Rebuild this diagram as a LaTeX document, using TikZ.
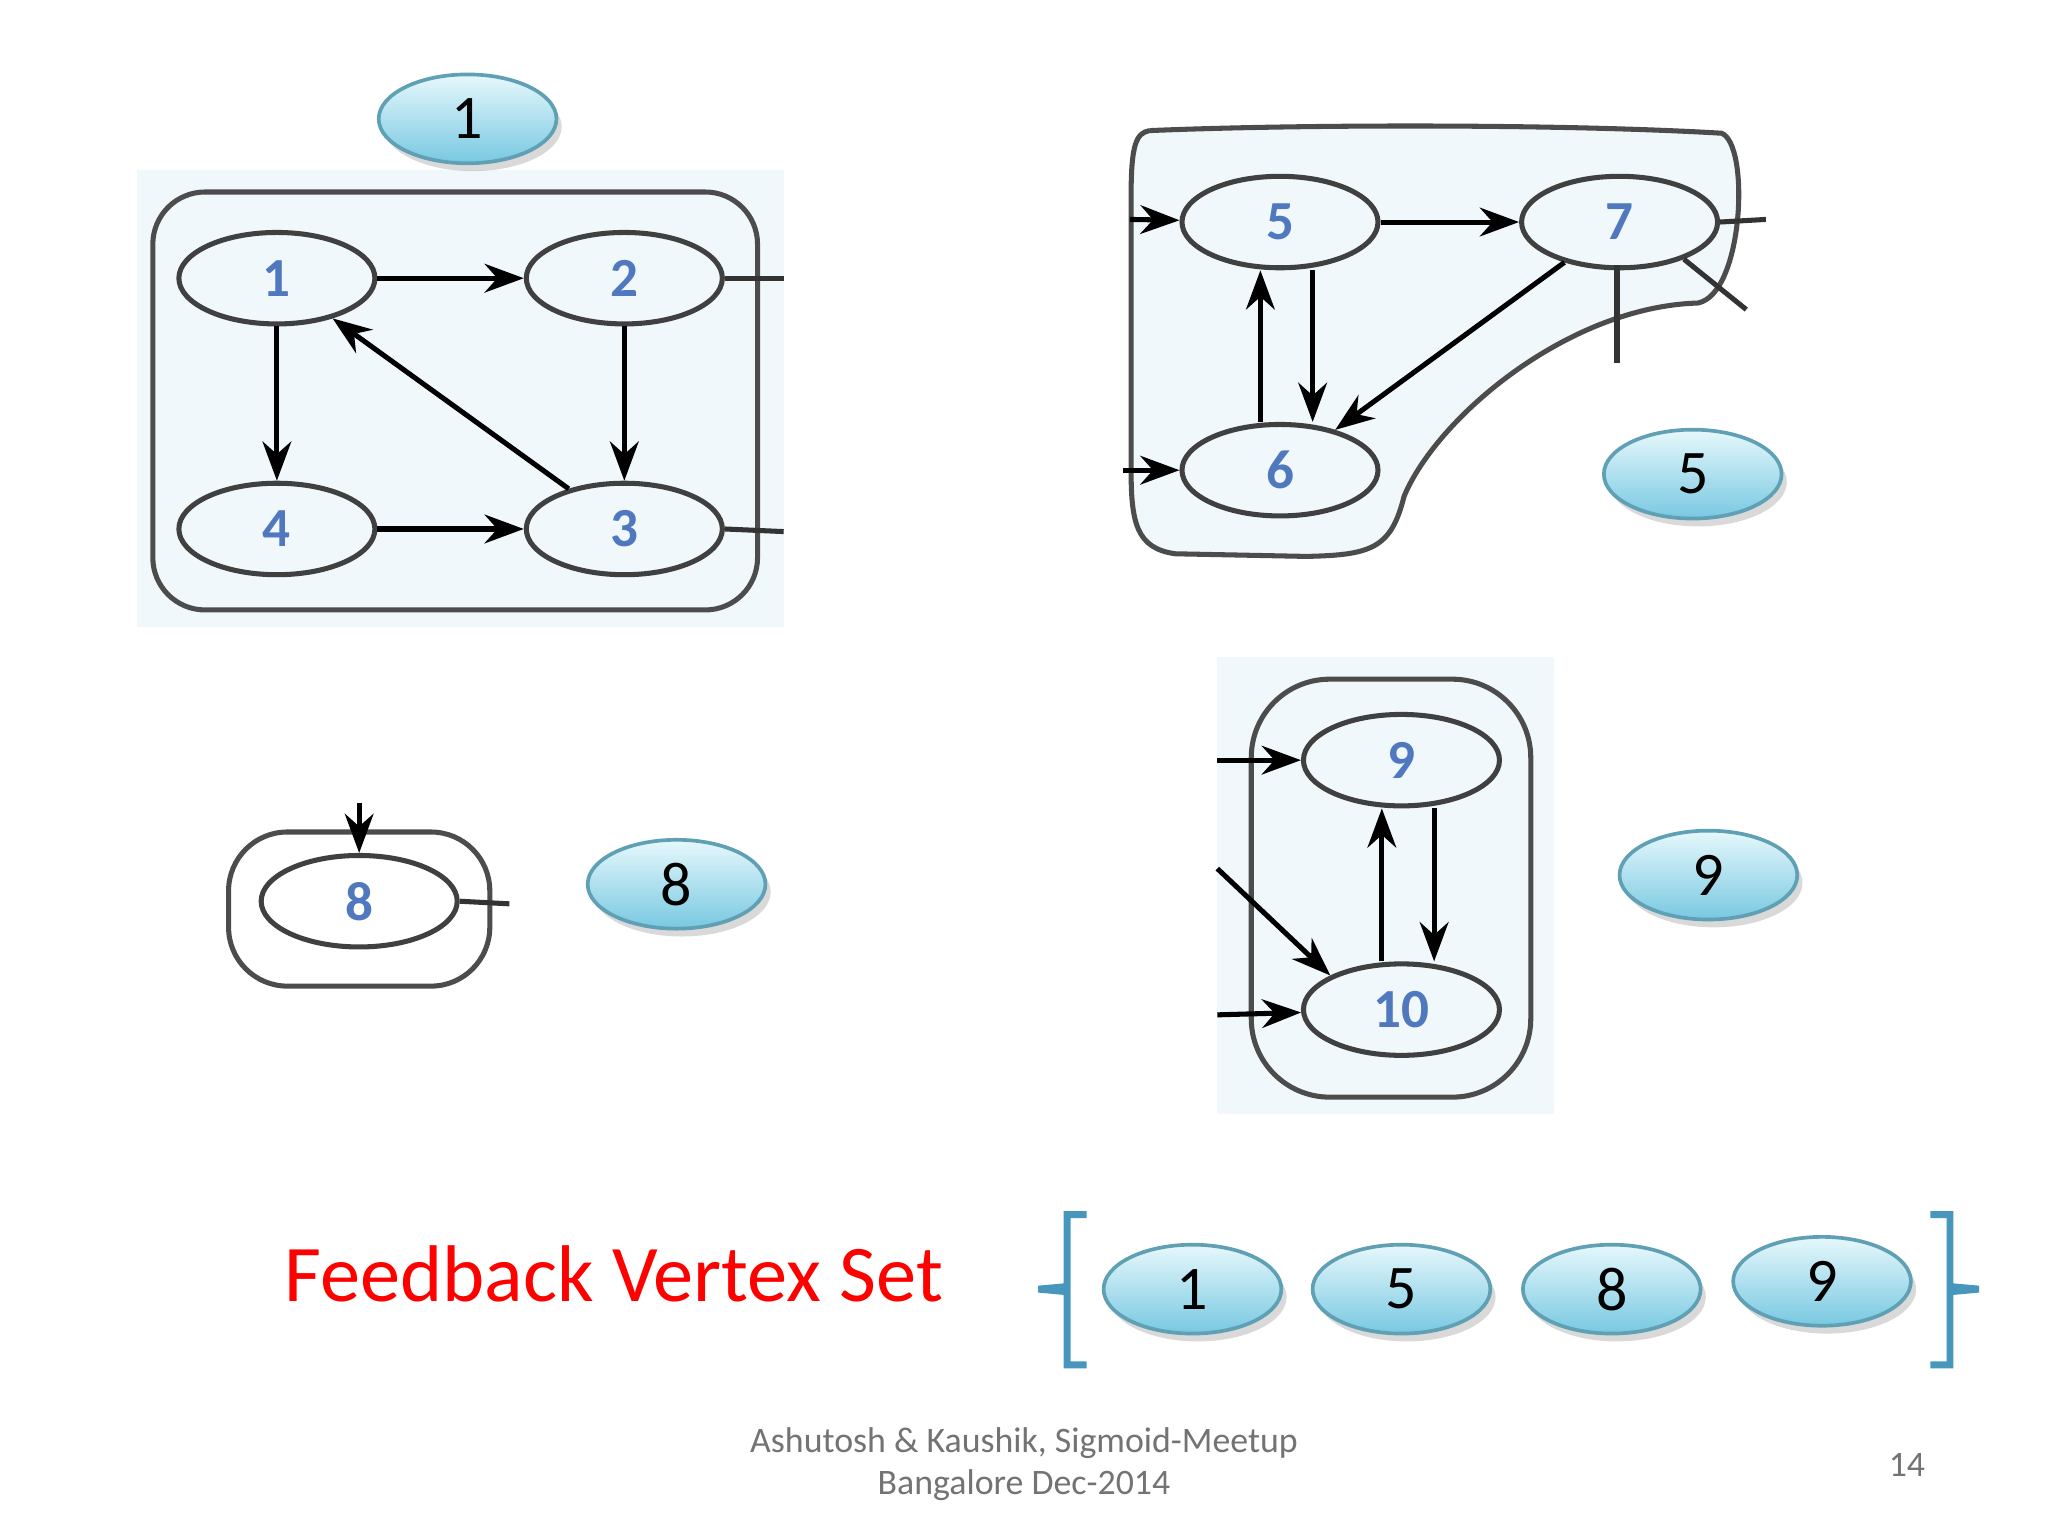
\documentclass[tikz,border=0pt]{standalone}
\usepackage{fontspec}
\setmainfont{Carlito}
\usetikzlibrary{shapes.geometric,arrows.meta,shadows}
\definecolor{gblue}{RGB}{80,120,190}
\definecolor{bgb}{RGB}{240,248,252}
\definecolor{bub}{RGB}{120,200,225}
\definecolor{bubl}{RGB}{230,248,252}
\definecolor{brk}{RGB}{70,150,190}
\tikzset{
 gnode/.style={ellipse,draw=black!75,line width=1.1pt,minimum width=15mm,minimum height=7mm,inner sep=0pt,font=\bfseries\fontsize{12}{14}\selectfont,text=gblue},
 bubble/.style={ellipse,draw=bub!80!black,line width=0.8pt,minimum width=13.6mm,minimum height=6.8mm,inner sep=0pt,top color=bubl,bottom color=bub,font=\fontsize{13.5}{16}\selectfont,drop shadow={opacity=0.3,shadow xshift=0.4mm,shadow yshift=-0.6mm}},
 arr/.style={-{Stealth[length=3mm,width=2.2mm]},line width=1.1pt},
 ln/.style={line width=1.1pt,black!80},
 box/.style={draw=black!70,line width=1.1pt,rounded corners=4mm}
}
\begin{document}
\begin{tikzpicture}[x=0.01cm,y=-0.01cm]
\useasboundingbox (0,0) rectangle (1568,1176);
% graph 1
\fill[bgb] (105,130) rectangle (600,480);
\draw[box] (117,147) rectangle (580,467);
\node[gnode] (n1) at (212,213) {1};
\node[gnode] (n2) at (478,213) {2};
\node[gnode] (n4) at (212,405) {4};
\node[gnode] (n3) at (478,405) {3};
\draw[arr] (n1) -- (n2);
\draw[arr] (n2) -- (n3);
\draw[arr] (n1) -- (n4);
\draw[arr] (n4) -- (n3);
\draw[arr] (n3) -- (n1);
\coordinate (s2) at (600,213); \coordinate (s3) at (600,407);
\draw[ln] (n2.east) -- (s2); \draw[ln] (n3.east) -- (s3);
\node[bubble] (b1) at (358,91) {1};
% graph 2
\fill[bgb] (880,100) .. controls (1000,95) and (1200,95) .. (1318,102) .. controls (1340,110) and (1335,225) .. (1300,232) .. controls (1200,235) and (1100,320) .. (1075,380) .. controls (1065,420) and (1050,425) .. (1000,426) -- (900,424) .. controls (870,420) and (866,400) .. (866,360) -- (866,150) .. controls (866,110) and (870,102) .. (880,100);
\draw[ln,black!70] (880,100) .. controls (1000,95) and (1200,95) .. (1318,102) .. controls (1340,110) and (1335,225) .. (1300,232) .. controls (1200,235) and (1100,320) .. (1075,380) .. controls (1065,420) and (1050,425) .. (1000,426) -- (900,424) .. controls (870,420) and (866,400) .. (866,360) -- (866,150) .. controls (866,110) and (870,102) .. (880,100);
\node[gnode] (n5) at (980,170) {5};
\node[gnode] (n7) at (1240,170) {7};
\node[gnode] (n6) at (980,360) {6};
\draw[arr] (n5) -- (n7);
\draw[arr] ([xshift=0.25cm]n5.south) -- ([xshift=0.25cm]n6.north);
\draw[arr] ([xshift=-0.15cm]n6.north) -- ([xshift=-0.15cm]n5.south);
\draw[arr] (n7) -- (n6);
\coordinate (i5) at (865,168); \coordinate (i6) at (860,360);
\draw[arr] (i5) -- (n5); \draw[arr] (i6) -- (n6);
\coordinate (o7) at (1352,168); \coordinate (d7) at (1238,278); \coordinate (g7) at (1337,237);
\draw[ln] (n7.east) -- (o7);
\draw[ln] (1238,203) -- (d7);
\draw[ln] (n7.-30) -- (g7);
\node[bubble] (b5) at (1296,363) {5};
% graph 3
\draw[box,rounded corners=4.5mm] (175,637) rectangle (375,755);
\node[gnode] (n8) at (275,690) {8};
\coordinate (i8) at (275,615); \coordinate (o8) at (390,692);
\draw[arr] (i8) -- (n8);
\draw[ln] (n8.east) -- (o8);
\node[bubble] (b8) at (518,677) {8};
% graph 4
\fill[bgb] (932,503) rectangle (1190,853);
\draw[box,rounded corners=6mm] (958,520) rectangle (1172,840);
\node[gnode] (n9) at (1073,582) {9};
\node[gnode] (n10) at (1073,773) {10};
\draw[arr] ([xshift=-0.15cm]n10.north) -- ([xshift=-0.15cm]n9.south);
\draw[arr] ([xshift=0.25cm]n9.south) -- ([xshift=0.25cm]n10.north);
\coordinate (i9) at (932,582); \coordinate (j10) at (932,665); \coordinate (k10) at (932,777);
\draw[arr] (i9) -- (n9); \draw[arr] (j10) -- (n10.north west); \draw[arr] (k10) -- (n10);
\node[bubble] (b9) at (1308,670) {9};
% bottom
\node[text=red,font=\fontsize{17.5}{22}\selectfont] (fvs) at (470,975) {Feedback Vertex Set};
\draw[brk,line width=1.5pt] (832,930) -- (817,930) -- (817,985) -- (795,987) -- (817,989) -- (817,1045) -- (832,1045);
\draw[brk,line width=1.5pt] (1478,930) -- (1493,930) -- (1493,985) -- (1515,987) -- (1493,989) -- (1493,1045) -- (1478,1045);
\node[bubble] (c1) at (913,987) {1};
\node[bubble] (c5) at (1073,987) {5};
\node[bubble] (c8) at (1234,987) {8};
\node[bubble] (c9) at (1395,981) {9};
\node[text=black!55,font=\fontsize{7.8}{9}\selectfont,align=center] (ft) at (784,1121) {Ashutosh \& Kaushik, Sigmoid-Meetup\\Bangalore Dec-2014};
\node[text=black!55,font=\fontsize{7.8}{9}\selectfont] (pg) at (1460,1122) {14};
\end{tikzpicture}
\end{document}
